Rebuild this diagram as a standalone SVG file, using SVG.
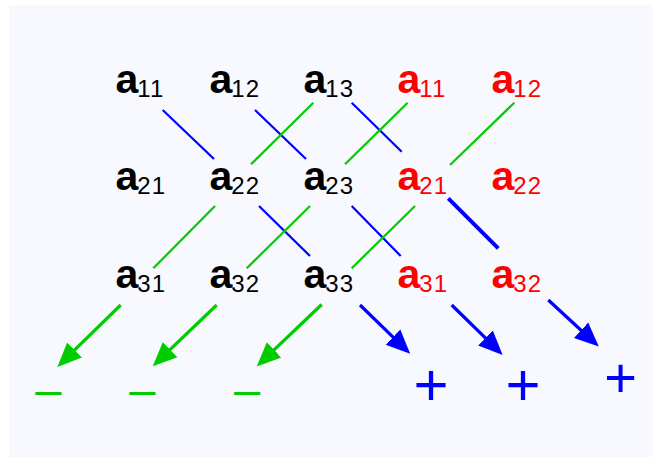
<svg xmlns="http://www.w3.org/2000/svg" width="653" height="457" viewBox="0 0 653 457">
<style>
.lbl{font-family:"Liberation Sans",Arial,sans-serif;font-size:41px;font-weight:bold}
.sub{font-size:24px;font-weight:normal;letter-spacing:1px}
.blk{fill:#000}
.red{fill:#FF0000}
.b{stroke:#0000FF;stroke-width:2.2;fill:none}
.g{stroke:#00CC00;stroke-width:2.2;fill:none}
.ba{stroke:#0000FF;stroke-width:3.2;fill:none;marker-end:url(#ab)}
.ga{stroke:#00CC00;stroke-width:3.2;fill:none;marker-end:url(#ag)}
.sign{font-family:"Liberation Sans",Arial,sans-serif;text-anchor:middle}
</style>
<defs>
<marker id="ab" markerUnits="userSpaceOnUse" viewBox="0 0 24 24" refX="8" refY="12" markerWidth="24" markerHeight="24" orient="auto"><path d="M0,1.5 L24,12 L0,22.5 Z" fill="#0000FF"/></marker>
<marker id="ag" markerUnits="userSpaceOnUse" viewBox="0 0 24 24" refX="8" refY="12" markerWidth="24" markerHeight="24" orient="auto"><path d="M0,1.5 L24,12 L0,22.5 Z" fill="#00CC00"/></marker>
</defs>
<rect x="0" y="0" width="653" height="457" fill="#FFFFFF"/>
<rect x="9" y="5" width="644" height="452" fill="#F8F8FF"/>
<g id="connectors">
<line class="b" x1="162.7" y1="110" x2="214" y2="159"/>
<line class="b" x1="255" y1="110" x2="306" y2="159"/>
<line class="b" x1="351.7" y1="102.7" x2="401.7" y2="151.7"/>
<line class="b" x1="259" y1="206" x2="310" y2="256"/>
<line class="b" x1="351.7" y1="206" x2="400.7" y2="256"/>
<line class="b" x1="448.3" y1="198.3" x2="498.3" y2="248.3" style="stroke-width:4"/>
<line class="g" x1="313.3" y1="102.7" x2="251" y2="164.3"/>
<line class="g" x1="407.7" y1="102.7" x2="345" y2="164.3"/>
<line class="g" x1="514.3" y1="102.7" x2="450" y2="165"/>
<line class="g" x1="215" y1="206" x2="153.3" y2="268.3"/>
<line class="g" x1="310" y1="206" x2="246.7" y2="268.3"/>
<line class="g" x1="415" y1="206" x2="351.7" y2="268.3"/>
<line class="ga" x1="120.7" y1="305" x2="68.8" y2="355.7"/>
<line class="ga" x1="216.7" y1="305" x2="164.3" y2="355.2"/>
<line class="ga" x1="321.7" y1="304.5" x2="268.3" y2="355.4"/>
<line class="ba" x1="360" y1="305" x2="398.7" y2="342.7"/>
<line class="ba" x1="451.7" y1="305" x2="491.2" y2="343.7"/>
<line class="ba" x1="548.3" y1="300" x2="587" y2="335.7"/>
</g>
<g id="n-a11"><text class="lbl blk" x="115.5" y="93">a<tspan class="sub" dx="-1" dy="4">11</tspan></text></g>
<g id="n-a12"><text class="lbl blk" x="209.5" y="93">a<tspan class="sub" dx="-1" dy="4">12</tspan></text></g>
<g id="n-a13"><text class="lbl blk" x="303.5" y="93">a<tspan class="sub" dx="-1" dy="4">13</tspan></text></g>
<g id="n-a11r"><text class="lbl red" x="397.5" y="93">a<tspan class="sub" dx="-1" dy="4">11</tspan></text></g>
<g id="n-a12r"><text class="lbl red" x="491.5" y="93">a<tspan class="sub" dx="-1" dy="4">12</tspan></text></g>
<g id="n-a21"><text class="lbl blk" x="115.5" y="190">a<tspan class="sub" dx="-1" dy="4">21</tspan></text></g>
<g id="n-a22"><text class="lbl blk" x="209.5" y="190">a<tspan class="sub" dx="-1" dy="4">22</tspan></text></g>
<g id="n-a23"><text class="lbl blk" x="303.5" y="190">a<tspan class="sub" dx="-1" dy="4">23</tspan></text></g>
<g id="n-a21r"><text class="lbl red" x="397.5" y="190">a<tspan class="sub" dx="-1" dy="4">21</tspan></text></g>
<g id="n-a22r"><text class="lbl red" x="491.5" y="190">a<tspan class="sub" dx="-1" dy="4">22</tspan></text></g>
<g id="n-a31"><text class="lbl blk" x="115.5" y="288">a<tspan class="sub" dx="-1" dy="4">31</tspan></text></g>
<g id="n-a32"><text class="lbl blk" x="209.5" y="288">a<tspan class="sub" dx="-1" dy="4">32</tspan></text></g>
<g id="n-a33"><text class="lbl blk" x="303.5" y="288">a<tspan class="sub" dx="-1" dy="4">33</tspan></text></g>
<g id="n-a31r"><text class="lbl red" x="397.5" y="288">a<tspan class="sub" dx="-1" dy="4">31</tspan></text></g>
<g id="n-a32r"><text class="lbl red" x="491.5" y="288">a<tspan class="sub" dx="-1" dy="4">32</tspan></text></g>
<g id="minus-1"><text class="sign" x="48.3" y="405" font-size="47" fill="#00CC00">–</text></g>
<g id="minus-2"><text class="sign" x="142.3" y="405" font-size="47" fill="#00CC00">–</text></g>
<g id="minus-3"><text class="sign" x="247" y="405" font-size="47" fill="#00CC00">–</text></g>
<g id="plus-1"><text class="sign" x="431" y="405" font-size="60" fill="#0000FF">+</text></g>
<g id="plus-2"><text class="sign" x="523" y="405" font-size="60" fill="#0000FF">+</text></g>
<g id="plus-3"><text class="sign" x="620.5" y="397" font-size="56" fill="#0000FF">+</text></g>
</svg>
